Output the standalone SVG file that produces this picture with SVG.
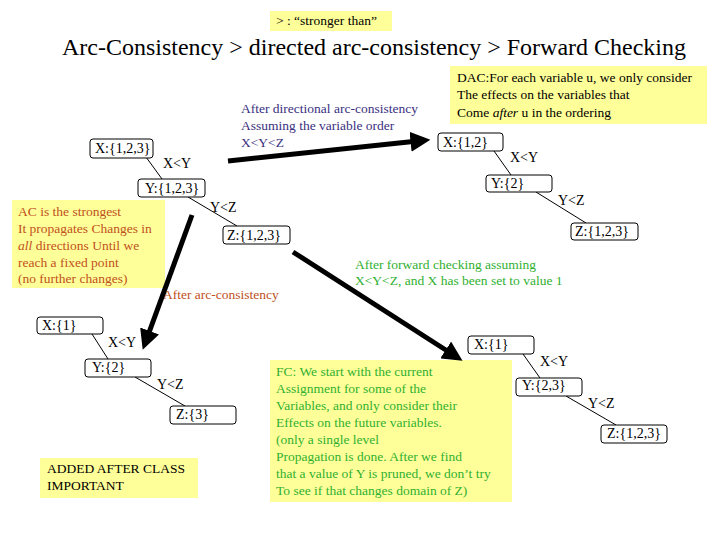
<svg xmlns="http://www.w3.org/2000/svg" width="720" height="540" viewBox="0 0 720 540" font-family="'Liberation Serif','DejaVu Serif',serif">
<style>
text{font-family:'Liberation Serif','DejaVu Serif',serif;font-size:13.5px}
.n rect{fill:#fff;stroke:#000;stroke-width:1}
.n text{font-size:14px}
.note{fill:#ffff99}
.e{stroke:#000;stroke-width:1;fill:none}
.big{stroke:#000;stroke-width:5;fill:none;marker-end:url(#ah)}
.el{font-size:14px}
.or{fill:#c0501c}.bl{fill:#3a2f80}.gr{fill:#30b030}
</style>
<defs><marker id="ah" markerWidth="4" markerHeight="4" refX="1.5" refY="2" orient="auto"><path d="M0,0L4,2L0,4z" fill="#000"/></marker></defs>
<rect class="note" x="270" y="11" width="122" height="20"/>
<text x="276" y="25">&gt;  : “stronger than”</text>
<text x="62" y="55" style="font-size:22.5px" textLength="624" lengthAdjust="spacingAndGlyphs">Arc-Consistency &gt; directed arc-consistency &gt; Forward Checking</text>

<g id="notes">
<rect class="note" x="12" y="200" width="153" height="88"/>
<text class="or" x="18" y="216">AC is the strongest</text>
<text class="or" x="18" y="233">It propagates Changes in</text>
<text class="or" x="18" y="250"> <tspan font-style="italic">all</tspan> directions Until we</text>
<text class="or" x="18" y="267">reach a fixed point</text>
<text class="or" x="18" y="283">(no further changes)</text>
<rect class="note" x="450" y="66" width="257" height="58"/>
<text x="457" y="82">DAC:For each variable u, we only consider</text>
<text x="457" y="99">The effects on the variables that</text>
<text x="457" y="117">Come <tspan font-style="italic">after</tspan> u in the ordering</text>
<rect class="note" x="40" y="458" width="158" height="40"/>
<text x="47" y="473">ADDED AFTER CLASS</text>
<text x="47" y="490">IMPORTANT</text>
<rect class="note" x="270" y="360" width="242" height="142"/>
<text class="gr" x="276" y="376">FC: We start with the current</text>
<text class="gr" x="276" y="393">Assignment for some of the</text>
<text class="gr" x="276" y="410">Variables, and only consider their</text>
<text class="gr" x="276" y="427">Effects on the future variables.</text>
<text class="gr" x="276" y="444">(only a single level</text>
<text class="gr" x="276" y="461">Propagation is done. After we find</text>
<text class="gr" x="276" y="478">that a value of Y is  pruned, we don’t try</text>
<text class="gr" x="276" y="495">To see if that changes domain of Z)</text>
<text class="bl" x="241" y="113">After directional arc-consistency</text>
<text class="bl" x="241" y="130">Assuming the variable order</text>
<text class="bl" x="241" y="147">X&lt;Y&lt;Z</text>
<text class="or" x="163" y="299">After arc-consistency</text>
<text class="gr" x="355" y="269">After  forward checking assuming</text>
<text class="gr" x="355" y="285">X&lt;Y&lt;Z, and X has been set to value 1</text>
</g>

<g id="connectors">
<path class="big" d="M228,161L418,141"/>
<path class="big" d="M192,215L147,338"/>
<path class="big" d="M293,252L452,354"/>
<path class="e" d="M146,157L162,179M188,197L237,226"/>
<path class="e" d="M494,151L511,175M536,192L586,223"/>
<path class="e" d="M92,334L108,359M135,377L185,406"/>
<path class="e" d="M523,354L540,378M566,396L616,425"/>
<text class="el" x="163" y="168">X&lt;Y</text><text class="el" x="210" y="212">Y&lt;Z</text>
<text class="el" x="510" y="162">X&lt;Y</text><text class="el" x="558" y="205">Y&lt;Z</text>
<text class="el" x="108" y="347">X&lt;Y</text><text class="el" x="157" y="389">Y&lt;Z</text>
<text class="el" x="540" y="366">X&lt;Y</text><text class="el" x="588" y="408">Y&lt;Z</text>
</g>

<g id="x1" class="n"><rect x="90" y="139" width="63" height="19" rx="3"/><text x="95" y="153">X:{1,2,3}</text></g>
<g id="y1" class="n"><rect x="138" y="179" width="67" height="18" rx="3"/><text x="145" y="193">Y:{1,2,3}</text></g>
<g id="z1" class="n"><rect x="223" y="226" width="67" height="18" rx="3"/><text x="227" y="240">Z:{1,2,3}</text></g>
<g id="x2" class="n"><rect x="438" y="133" width="65" height="18" rx="3"/><text x="443" y="147">X:{1,2}</text></g>
<g id="y2" class="n"><rect x="486" y="175" width="66" height="17" rx="3"/><text x="491" y="188">Y:{2}</text></g>
<g id="z2" class="n"><rect x="571" y="223" width="67" height="17" rx="3"/><text x="575" y="236">Z:{1,2,3}</text></g>
<g id="x3" class="n"><rect x="37" y="317" width="66" height="17" rx="3"/><text x="42" y="330">X:{1}</text></g>
<g id="y3" class="n"><rect x="85" y="359" width="66" height="18" rx="3"/><text x="92" y="372">Y:{2}</text></g>
<g id="z3" class="n"><rect x="170" y="406" width="66" height="18" rx="3"/><text x="176" y="419">Z:{3}</text></g>
<g id="x4" class="n"><rect x="468" y="336" width="66" height="18" rx="3"/><text x="474" y="349">X:{1}</text></g>
<g id="y4" class="n"><rect x="516" y="378" width="66" height="18" rx="3"/><text x="522" y="390">Y:{2,3}</text></g>
<g id="z4" class="n"><rect x="601" y="425" width="66" height="18" rx="3"/><text x="607" y="438">Z:{1,2,3}</text></g>
</svg>
